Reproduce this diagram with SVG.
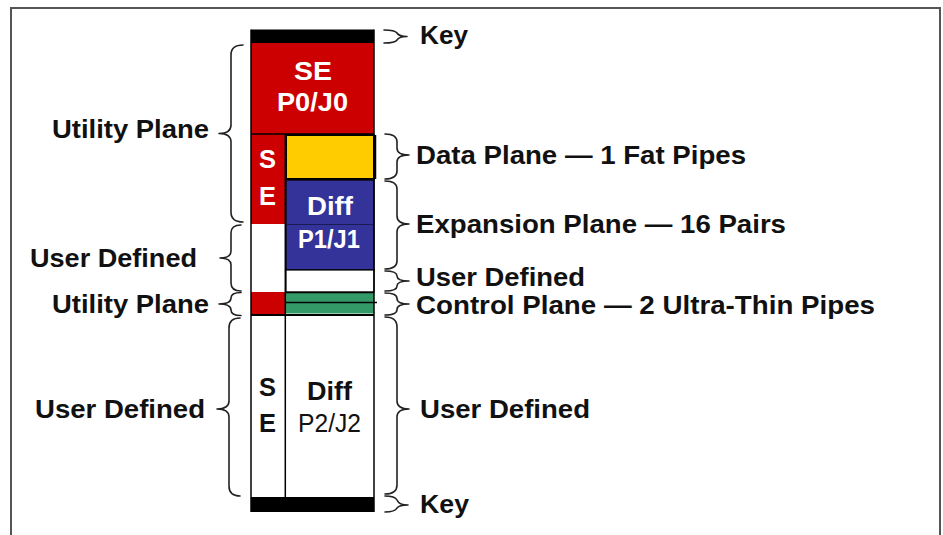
<svg xmlns="http://www.w3.org/2000/svg" width="943" height="535" viewBox="0 0 943 535">
<style>
.t{font-family:"Liberation Sans",Arial,sans-serif;font-weight:bold;font-size:25px;fill:#111}
.w{fill:#fff}
.r{font-weight:normal}
.s22{font-size:26px}
.br{fill:none;stroke:#222;stroke-width:1.6;stroke-linecap:round;stroke-linejoin:round}
.ln{stroke:#000;stroke-width:1.5;fill:none}
</style>
<rect x="0" y="0" width="943" height="535" fill="#fff"/>
<rect x="11" y="8" width="929" height="545" fill="none" stroke="#555" stroke-width="2"/>

<g id="column">
  <rect x="251" y="29.5" width="123" height="13.5" fill="#000"/>
  <rect x="251" y="43" width="123" height="91" fill="#CC0000"/>
  <rect x="251" y="134" width="34" height="90" fill="#CC0000"/>
  <rect x="251" y="224" width="34" height="68" fill="#fff"/>
  <rect x="251" y="292" width="34" height="23" fill="#CC0000"/>
  <rect x="286" y="135" width="88" height="44" fill="#FFCC00" stroke="#000" stroke-width="2"/>
  <line x1="375" y1="135" x2="375" y2="179" stroke="#000" stroke-width="2.5"/>
  <rect x="286" y="180" width="88" height="90" fill="#333399" stroke="#000" stroke-width="1.2"/>
  <line x1="286" y1="224.5" x2="374" y2="224.5" stroke="#1a1a55" stroke-width="1"/>
  <rect x="286" y="270" width="88" height="22" fill="#fff" stroke="#000" stroke-width="1.2"/>
  <rect x="286" y="293" width="88" height="9" fill="#339966"/>
  <rect x="286" y="303" width="88" height="10.5" fill="#339966"/>
  <line x1="286" y1="292.5" x2="374" y2="292.5" class="ln"/>
  <line x1="286" y1="302.5" x2="377" y2="302.5" class="ln"/>
  <line x1="251" y1="315" x2="374" y2="315" stroke="#000" stroke-width="2.2"/>
  <line x1="251" y1="134" x2="374" y2="134" class="ln"/>
  <rect x="251" y="497" width="123" height="15" fill="#000"/>
  <line x1="251" y1="29.5" x2="251" y2="512" class="ln"/>
  <line x1="374" y1="29.5" x2="374" y2="512" class="ln"/>
  <line x1="285.3" y1="134" x2="285.3" y2="497" class="ln"/>
</g>

<g id="column-labels">
  <text class="t w" x="294" y="80" textLength="38" lengthAdjust="spacingAndGlyphs">SE</text>
  <text class="t w" x="277" y="111" textLength="71" lengthAdjust="spacingAndGlyphs">P0/J0</text>
  <text class="t w s22" x="259" y="168" textLength="17" lengthAdjust="spacingAndGlyphs">S</text>
  <text class="t w s22" x="259" y="205" textLength="17" lengthAdjust="spacingAndGlyphs">E</text>
  <text class="t w" x="307" y="215" textLength="46" lengthAdjust="spacingAndGlyphs">Diff</text>
  <text class="t w" x="298" y="248" textLength="62" lengthAdjust="spacingAndGlyphs">P1/J1</text>
  <text class="t s22" x="259" y="396" textLength="17" lengthAdjust="spacingAndGlyphs">S</text>
  <text class="t s22" x="259" y="432" textLength="17" lengthAdjust="spacingAndGlyphs">E</text>
  <text class="t" x="307" y="400" textLength="45" lengthAdjust="spacingAndGlyphs">Diff</text>
  <text class="t r" x="298" y="432" textLength="63" lengthAdjust="spacingAndGlyphs">P2/J2</text>
</g>

<g id="connectors">
  <path class="br" d="M243,45 Q231,45 231,55 L231,125 Q231,133.5 219,133.5 Q231,133.5 231,142 L231,212 Q231,222 243,222"/>
  <path class="br" d="M241,225 Q231,225 231,233 L231,251 Q231,258 220,258 Q231,258 231,265 L231,283 Q231,291 241,291"/>
  <path class="br" d="M241,292.5 Q231,292.5 231,298 Q231,304 219,304 Q231,304 231,310 Q231,315.5 241,315.5"/>
  <path class="br" d="M240,318 Q229,318 229,328 L229,401 Q229,409 217,409 Q229,409 229,417 L229,486 Q229,496 240,496"/>
  <path class="br" d="M384,30 Q395,30 397,33 Q399,36.5 407,36.5 Q399,36.5 397,40 Q395,43 384,43"/>
  <path class="br" d="M385,134 Q397,134 397,142 L397,148 Q397,155 409,155 Q397,155 397,162 L397,171 Q397,179 385,179"/>
  <path class="br" d="M385,181 Q397,181 397,189 L397,216 Q397,224 409,224 Q397,224 397,232 L397,261 Q397,269 385,269"/>
  <path class="br" d="M385,271 Q397,271 397,276 Q397,281 409,281 Q397,281 397,286 Q397,291 385,291"/>
  <path class="br" d="M385,293 Q397,293 397,298.5 Q397,304 409,304 Q397,304 397,309.5 Q397,315 385,315"/>
  <path class="br" d="M385,317 Q397,317 397,327 L397,401 Q397,409 409,409 Q397,409 397,417 L397,485 Q397,494 385,494"/>
  <path class="br" d="M385,496 Q395,496 397,500 Q399,505 408,505 Q399,505 397,508 Q395,512 385,512"/>
</g>

<g id="left-labels">
  <text class="t" x="52" y="138" textLength="157" lengthAdjust="spacingAndGlyphs">Utility Plane</text>
  <text class="t" x="30" y="267" textLength="167" lengthAdjust="spacingAndGlyphs">User Defined</text>
  <text class="t" x="52" y="313" textLength="157" lengthAdjust="spacingAndGlyphs">Utility Plane</text>
  <text class="t" x="35" y="418" textLength="170" lengthAdjust="spacingAndGlyphs">User Defined</text>
</g>

<g id="right-labels">
  <text class="t" x="420" y="44" textLength="48" lengthAdjust="spacingAndGlyphs">Key</text>
  <text class="t" x="416" y="164" textLength="330" lengthAdjust="spacingAndGlyphs">Data Plane — 1 Fat Pipes</text>
  <text class="t" x="416" y="233" textLength="370" lengthAdjust="spacingAndGlyphs">Expansion Plane — 16 Pairs</text>
  <text class="t" x="416" y="286" textLength="169" lengthAdjust="spacingAndGlyphs">User Defined</text>
  <text class="t" x="416" y="314" textLength="459" lengthAdjust="spacingAndGlyphs">Control Plane — 2 Ultra-Thin Pipes</text>
  <text class="t" x="420" y="418" textLength="170" lengthAdjust="spacingAndGlyphs">User Defined</text>
  <text class="t" x="420" y="513" textLength="49" lengthAdjust="spacingAndGlyphs">Key</text>
</g>
</svg>
